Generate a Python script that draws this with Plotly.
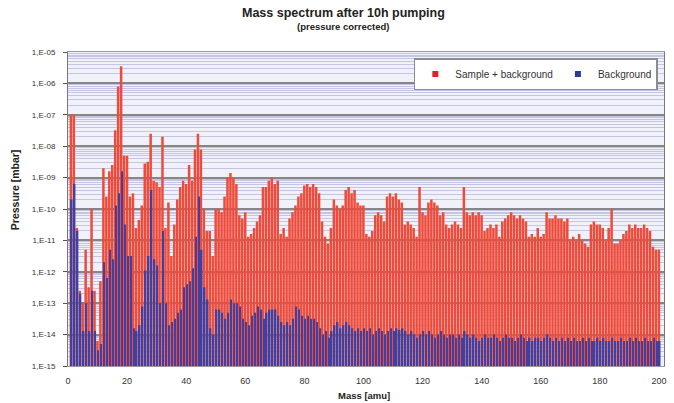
import plotly.graph_objects as go

# ---- data ----
masses = list(range(1, 201))

sample_plus_background = [
    1.0e-07, 1.0e-07, 2.5e-11, 2.5e-13, 1.0e-13, 5.0e-12, 3.2e-13, 1.0e-10, 2.5e-13, 6.3e-15,
    5.0e-13, 2.0e-09, 2.5e-10, 1.6e-09, 2.5e-09, 3.2e-08, 7.9e-07, 3.5e-06, 5.0e-09, 5.0e-09,
    2.5e-10, 3.2e-10, 2.5e-11, 4.5e-11, 1.3e-10, 2.8e-09, 3.2e-09, 2.5e-08, 7.9e-10, 7.1e-10,
    5.0e-10, 2.0e-08, 2.5e-11, 1.6e-10, 3.2e-12, 3.2e-11, 2.0e-10, 5.0e-10, 7.9e-10, 6.3e-10,
    2.5e-09, 7.9e-10, 7.9e-09, 2.5e-08, 7.9e-09, 1.0e-10, 2.0e-11, 2.0e-11, 3.2e-12, 1.0e-10,
    1.0e-10, 7.9e-11, 2.5e-10, 1.0e-09, 1.4e-09, 1.0e-09, 6.3e-10, 6.3e-11, 5.0e-11, 7.9e-11,
    1.3e-11, 1.6e-11, 2.5e-11, 4.0e-11, 6.3e-11, 5.0e-10, 5.0e-10, 7.9e-10, 1.0e-09, 6.3e-10,
    7.9e-10, 1.6e-11, 2.5e-11, 1.3e-11, 5.0e-11, 7.9e-11, 1.3e-10, 2.5e-10, 3.2e-10, 5.6e-10,
    6.3e-10, 5.0e-10, 6.3e-10, 5.0e-10, 3.2e-10, 4.0e-11, 1.3e-11, 7.9e-12, 2.5e-11, 2.0e-10,
    1.3e-10, 1.0e-10, 1.3e-10, 4.0e-10, 5.0e-10, 3.2e-10, 4.0e-10, 1.6e-10, 1.3e-10, 1.3e-10,
    1.6e-11, 1.3e-11, 2.0e-11, 6.3e-11, 7.9e-11, 6.3e-11, 4.0e-11, 2.5e-10, 3.2e-10, 2.5e-10,
    3.2e-10, 2.0e-10, 1.6e-10, 3.2e-11, 4.0e-11, 3.2e-11, 2.5e-11, 1.3e-11, 5.0e-10, 7.9e-11,
    6.3e-11, 1.6e-10, 2.0e-10, 1.6e-10, 1.3e-10, 6.3e-11, 7.9e-11, 3.2e-11, 2.5e-11, 3.2e-11,
    4.0e-11, 3.2e-11, 2.5e-11, 5.0e-10, 7.9e-11, 6.3e-11, 7.9e-11, 6.3e-11, 7.9e-11, 6.3e-11,
    2.0e-11, 2.5e-11, 3.2e-11, 2.5e-11, 3.2e-11, 1.3e-11, 4.0e-11, 5.0e-11, 6.3e-11, 7.9e-11,
    6.3e-11, 5.0e-11, 6.3e-11, 5.0e-11, 4.0e-11, 1.3e-11, 1.6e-11, 1.3e-11, 2.5e-11, 1.3e-11,
    1.6e-11, 7.9e-11, 5.0e-11, 5.0e-11, 6.3e-11, 5.0e-11, 5.0e-11, 4.0e-11, 5.0e-11, 1.0e-11,
    1.3e-11, 1.0e-11, 1.6e-11, 1.0e-11, 7.9e-12, 6.3e-12, 3.2e-11, 4.0e-11, 3.2e-11, 3.2e-11,
    2.5e-11, 1.0e-11, 2.5e-11, 1.0e-10, 7.9e-12, 7.9e-12, 1.0e-11, 1.6e-11, 2.0e-11, 3.2e-11,
    2.5e-11, 3.2e-11, 2.5e-11, 2.5e-11, 3.2e-11, 2.5e-11, 2.0e-11, 6.3e-12, 5.0e-12, 5.0e-12,
]

background = [
    2.0e-10, 6.3e-10, 2.0e-11, 2.0e-13, 1.3e-14, 1.0e-13, 1.3e-14, 2.5e-13, 1.3e-14, 3.2e-15,
    5.0e-15, 2.0e-12, 6.3e-13, 5.0e-12, 2.5e-12, 1.3e-10, 3.2e-10, 1.6e-09, 3.2e-11, 3.2e-12,
    3.2e-12, 1.6e-14, 1.3e-14, 2.0e-14, 7.9e-14, 1.1e-12, 3.2e-12, 4.0e-10, 2.5e-12, 1.6e-12,
    1.0e-13, 2.0e-11, 1.0e-13, 2.0e-14, 2.5e-14, 3.2e-14, 5.0e-14, 6.3e-14, 3.2e-13, 4.0e-13,
    5.0e-13, 1.3e-12, 1.3e-11, 2.5e-10, 5.0e-12, 3.2e-13, 1.3e-13, 1.6e-14, 1.0e-14, 6.3e-14,
    6.3e-14, 5.0e-14, 3.2e-14, 5.0e-14, 1.3e-13, 1.0e-13, 1.0e-13, 7.9e-14, 3.2e-14, 2.5e-14,
    2.0e-14, 4.0e-14, 5.0e-14, 7.9e-14, 6.3e-14, 3.2e-14, 5.0e-14, 6.3e-14, 6.3e-14, 6.3e-14,
    4.0e-14, 2.5e-14, 2.0e-14, 2.5e-14, 2.0e-14, 3.2e-14, 7.9e-14, 6.3e-14, 4.0e-14, 3.2e-14,
    4.0e-14, 3.2e-14, 3.2e-14, 2.5e-14, 1.6e-14, 1.0e-14, 1.3e-14, 7.9e-15, 1.3e-14, 2.0e-14,
    2.5e-14, 1.6e-14, 2.0e-14, 2.5e-14, 2.0e-14, 1.6e-14, 1.3e-14, 1.6e-14, 1.3e-14, 1.6e-14,
    1.3e-14, 1.6e-14, 1.0e-14, 1.3e-14, 1.6e-14, 1.3e-14, 1.0e-14, 1.3e-14, 1.6e-14, 1.3e-14,
    1.6e-14, 1.4e-14, 1.6e-14, 1.3e-14, 1.0e-14, 1.3e-14, 1.0e-14, 7.9e-15, 1.0e-14, 1.3e-14,
    1.0e-14, 1.3e-14, 1.0e-14, 7.9e-15, 1.0e-14, 1.3e-14, 1.0e-14, 7.9e-15, 1.0e-14, 1.0e-14,
    7.9e-15, 1.0e-14, 7.9e-15, 1.3e-14, 1.0e-14, 7.9e-15, 1.0e-14, 7.9e-15, 6.3e-15, 7.9e-15,
    1.0e-14, 7.9e-15, 7.9e-15, 1.0e-14, 7.9e-15, 6.3e-15, 7.9e-15, 1.0e-14, 7.9e-15, 7.9e-15,
    6.3e-15, 7.9e-15, 1.0e-14, 7.9e-15, 6.3e-15, 7.9e-15, 6.3e-15, 7.9e-15, 7.9e-15, 6.3e-15,
    7.9e-15, 1.0e-14, 7.9e-15, 6.3e-15, 7.9e-15, 6.3e-15, 7.9e-15, 6.3e-15, 7.9e-15, 6.3e-15,
    7.9e-15, 6.3e-15, 6.3e-15, 7.9e-15, 6.3e-15, 7.9e-15, 6.3e-15, 6.3e-15, 7.9e-15, 6.3e-15,
    7.9e-15, 6.3e-15, 6.3e-15, 7.9e-15, 6.3e-15, 6.3e-15, 7.9e-15, 6.3e-15, 6.3e-15, 7.9e-15,
    6.3e-15, 7.9e-15, 6.3e-15, 6.3e-15, 7.9e-15, 6.3e-15, 6.3e-15, 7.9e-15, 6.3e-15, 6.3e-15,
]

y_tick_values = [1e-15, 1e-14, 1e-13, 1e-12, 1e-11, 1e-10, 1e-09, 1e-08, 1e-07, 1e-06, 1e-05]
y_tick_labels = ["1,E-15", "1,E-14", "1,E-13", "1,E-12", "1,E-11", "1,E-10",
                 "1,E-09", "1,E-08", "1,E-07", "1,E-06", "1,E-05"]
x_tick_values = [0, 20, 40, 60, 80, 100, 120, 140, 160, 180, 200]
x_tick_labels = ["0", "20", "40", "60", "80", "100", "120", "140", "160", "180", "200"]

# minor (log) grid positions 2..9 per decade
minor_vals = [k * 10.0 ** e for e in range(-15, -5) for k in range(2, 10)]

FONT = "Liberation Sans, Arial, sans-serif"
RED = "#ef4b3a"
BLUE = "#3f40a0"

fig = go.Figure()
fig.add_trace(go.Bar(x=masses, y=sample_plus_background, name="Sample + background",
                     width=0.85, offset=-0.45, showlegend=False,
                     marker=dict(color=RED, line=dict(width=0))))
fig.add_trace(go.Bar(x=masses, y=background, name="Background",
                     width=0.5, offset=0.0, showlegend=False,
                     marker=dict(color=BLUE, line=dict(width=0))))
# legend entries with small square keys
fig.add_trace(go.Scatter(x=[None], y=[None], mode="markers", name="Sample + background",
                         marker=dict(symbol="square", size=6, color="#e0202c")))
fig.add_trace(go.Scatter(x=[None], y=[None], mode="markers", name="Background",
                         marker=dict(symbol="square", size=6, color="#2b3a9a")))

fig.update_layout(
    width=674, height=403,
    margin=dict(l=68, r=8, t=52, b=37),
    paper_bgcolor="white",
    plot_bgcolor="#f1f1f9",
    barmode="overlay",
    font=dict(family=FONT, size=9, color="#333333"),
    showlegend=True,
    legend=dict(orientation="h", x=(415 - 68) / 598, y=(366 - 58) / 314,
                xanchor="left", yanchor="top",
                bgcolor="white", bordercolor="#8c8c8c", borderwidth=1.5,
                font=dict(size=10, color="#333333"), itemwidth=30,
                traceorder="normal"),
    annotations=[
        dict(text="<b>Mass spectrum after 10h pumping</b>", xref="paper", yref="paper",
             x=(344 - 68) / 598, y=(366 - 13) / 314, showarrow=False,
             xanchor="center", yanchor="middle", font=dict(size=12.5, color="#222222")),
        dict(text="<b>(pressure corrected)</b>", xref="paper", yref="paper",
             x=(344 - 68) / 598, y=(366 - 26) / 314, showarrow=False,
             xanchor="center", yanchor="middle", font=dict(size=9.5, color="#222222")),
        dict(text="<b>Pressure [mbar]</b>", xref="paper", yref="paper",
             x=(15 - 68) / 598, y=(366 - 190) / 314, showarrow=False, textangle=-90,
             xanchor="center", yanchor="middle", font=dict(size=10.5, color="#222222")),
        dict(text="<b>Mass [amu]</b>", xref="paper", yref="paper",
             x=(365 - 68) / 598, y=(366 - 395) / 314, showarrow=False,
             xanchor="center", yanchor="middle", font=dict(size=9.5, color="#222222")),
    ],
)

fig.update_xaxes(
    range=[0, 201.7],
    tickmode="array", tickvals=x_tick_values, ticktext=x_tick_labels,
    showgrid=False, zeroline=False,
    showline=True, linecolor="#9a9a9a", linewidth=1, mirror=True,
    ticks="", ticklabelstandoff=6, tickfont=dict(size=9, color="#333333"),
)

fig.update_yaxes(
    type="log", range=[-15, -5],
    tickmode="array", tickvals=y_tick_values, ticktext=y_tick_labels,
    ticks="outside", ticklen=4, tickcolor="#555555",
    ticklabelstandoff=6,
    tickfont=dict(size=8, color="#333333"),
    showgrid=True, gridcolor="#868686", gridwidth=2,
    minor=dict(tickmode="array", tickvals=minor_vals, showgrid=True,
               gridcolor="#c4c4e4", gridwidth=1.3, ticks=""),
    showline=True, linecolor="#777777", linewidth=1, mirror=True,
    zeroline=False,
)

fig.write_html("out.html", config={"displayModeBar": False},
               post_script="document.body.style.margin='0';")
